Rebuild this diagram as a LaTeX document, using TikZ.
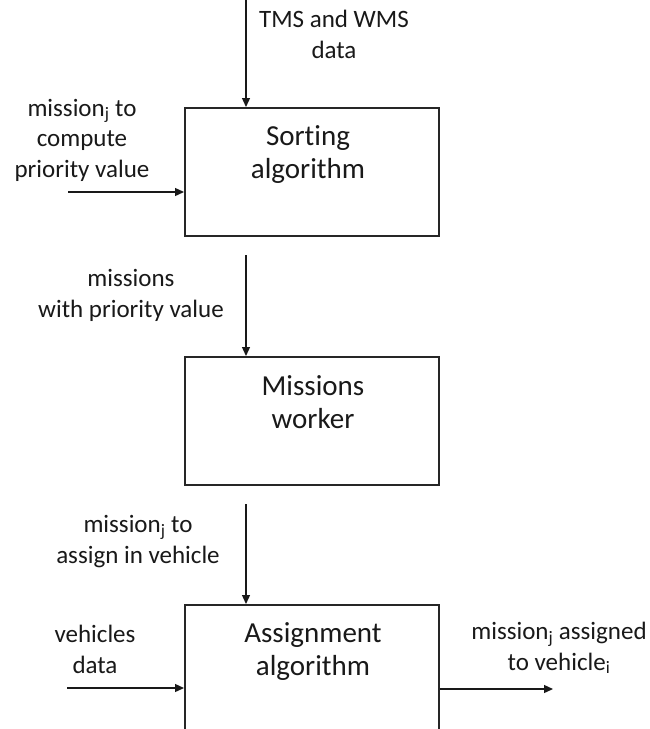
\documentclass[tikz,border=0pt]{standalone}
\usepackage{fontspec}
\setmainfont{Carlito}[Ligatures=NoCommon]
\usetikzlibrary{arrows.meta}
\begin{document}
\begin{tikzpicture}[x=1pt,y=-1pt,
  block/.style={draw=black!85, line width=1.6pt, rectangle, inner sep=0pt,
    anchor=north west, minimum width=254pt},
  title/.style={font=\fontsize{29}{33}\selectfont, align=center,
    text=black!90, inner sep=0pt, anchor=base},
  note/.style={font=\fontsize{25}{30.5}\selectfont, align=center,
    text=black!90, inner sep=0pt, anchor=base},
  flow/.style={line width=1.3pt, draw=black!90,
    -{Triangle[length=9pt,width=8pt]}}]
\clip (0,0) rectangle (649,729);
\fill[white] (0,0) rectangle (649,729);

% processing blocks
\node[block, minimum height=128pt] (sort)   at (184,107) {};
\node[block, minimum height=128pt] (work)   at (184,356) {};
\node[block, minimum height=140pt] (assign) at (184,604) {};

% block titles (anchored at the baseline of their last line)
\node[title] (sortT)   at (308,178) {Sorting\\algorithm};
\node[title] (workT)   at (313,428) {Missions\\worker};
\node[title] (assignT) at (313,675) {Assignment\\algorithm};

% free ends of the connectors
\coordinate (tmsin)  at (246,0);
\coordinate (prin)   at (68,192);
\coordinate (smout)  at (246,255);
\coordinate (mwout)  at (246,504);
\coordinate (vehin)  at (67,688);
\coordinate (assout) at (553,689);

% connectors
\draw[flow] (tmsin) -- (tmsin |- sort.north);
\draw[flow] (prin) -- (prin -| sort.west);
\draw[flow] (smout) -- (smout |- work.north);
\draw[flow] (mwout) -- (mwout |- assign.north);
\draw[flow] (vehin) -- (vehin -| assign.west);
\draw[flow] (assout -| assign.east) -- (assout);

% connector labels
\node[note] (tmsT)   at (334,58)  {TMS and WMS\\data};
\node[note] (prT)    at (82,177)  {mission\textsubscript{j} to\\compute\\priority value};
\node[note] (mwpT)   at (131,317) {missions\\with priority value};
\node[note] (toassT) at (138,563) {mission\textsubscript{j} to\\assign in vehicle};
\node[note] (vehT)   at (95,673)  {vehicles\\data};
\node[note] (outT)   at (559,670) {mission\textsubscript{j} assigned\\to vehicle\textsubscript{i}};
\end{tikzpicture}
\end{document}
